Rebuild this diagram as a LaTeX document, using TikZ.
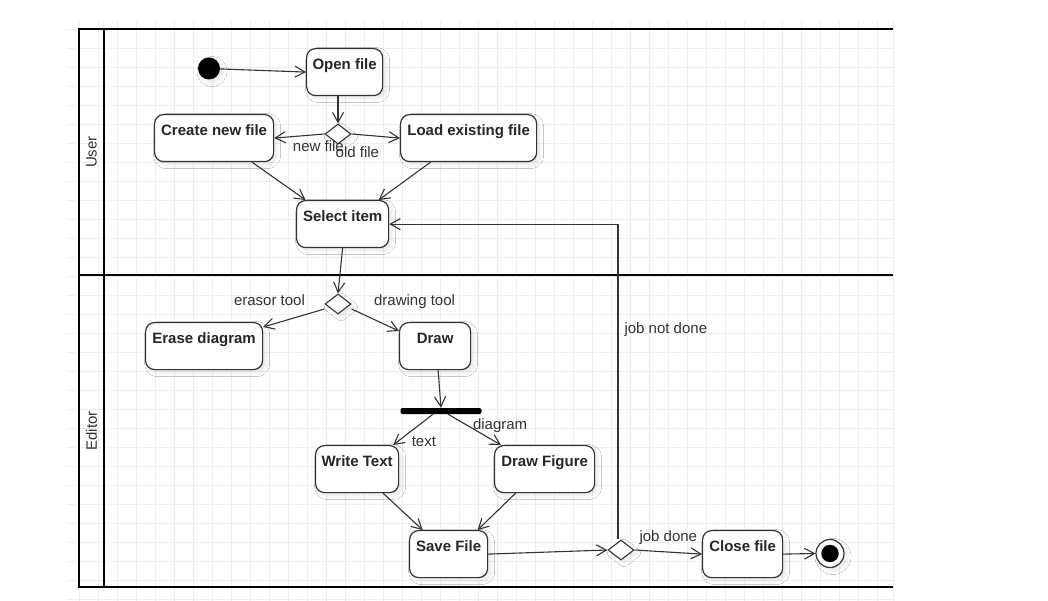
\documentclass[tikz,border=0pt]{standalone}
\usepackage{fontspec}
\setmainfont{Liberation Sans}
\usetikzlibrary{arrows.meta,shapes.geometric,shadows.blur,calc}

\definecolor{ink}{HTML}{333333}
\definecolor{gridc}{HTML}{EEEEEE}

\begin{document}
\begin{tikzpicture}[x=1pt,y=-1pt,
  every node/.style={font=\fontsize{15}{18}\selectfont},
  softshadow/.style={blur shadow={shadow xshift=3pt,shadow yshift=-3pt,shadow blur radius=4pt,shadow blur steps=8,shadow opacity=10}},
  state/.style={draw=ink, line width=1.2pt, rounded corners=9pt, fill=white,
    anchor=north west, inner xsep=3pt, inner ysep=2pt,
    text height=18.5pt, text depth=24.5pt,
    font=\bfseries\fontsize{15}{18}\selectfont, text=black!85, softshadow},
  choice/.style={diamond, draw=ink, line width=1.1pt, fill=white, inner sep=0pt,
    minimum width=26pt, minimum height=20pt, softshadow},
  flow/.style={draw=ink, line width=1.1pt, -{Straight Barb[length=10pt,width=11pt]}},
  guard/.style={text=ink, inner sep=1pt},
  lanetitle/.style={text=ink, rotate=90},
  lane/.style={line width=2pt, draw=black},
  gridline/.style={draw=gridc, line width=0.9pt}
]
% page
\fill[white] (0,0) rectangle (1048,601);
\useasboundingbox (0,0) rectangle (1048,601);

% background grid
\foreach \k in {0,...,42} \draw[gridline] ({79+19*\k},21) -- ({79+19*\k},601);
\draw[gridline] (893,21) -- (893,601);
\foreach \k in {0,...,30} \draw[gridline] (66,{29+19*\k}) -- (893,{29+19*\k});

% swimlanes
\draw[lane] (893,29) -- (79,29) -- (79,587) -- (893,587);
\draw[lane] (104,29) -- (104,587);
\draw[lane] (79,275) -- (893,275);
\node[lanetitle] (userlane) at (91.5,152) {User};
\node[lanetitle] (editorlane) at (91.5,431) {Editor};

% start and end
\node[circle, fill=black, minimum size=22pt, inner sep=0pt, softshadow] (init) at (209,68.5) {};
\node[circle, draw=ink, line width=1.2pt, fill=white, minimum size=28pt, inner sep=0pt, softshadow,
  path picture={\fill[black] (path picture bounding box.center) circle (8.7pt);}] (fin) at (830,553.5) {};

% activities
\node[state, minimum width=76pt]  (open)   at (306,48)  {Open file};
\node[state, minimum width=119pt] (cnf)    at (154,114) {Create new file};
\node[state, minimum width=136pt] (load)   at (400,114) {Load existing file};
\node[state, minimum width=92pt]  (select) at (296,200) {Select item};
\node[state, minimum width=117pt] (erase)  at (145,322) {Erase diagram};
\node[state, minimum width=71pt]  (draw)   at (399,322) {Draw};
\node[state, minimum width=83pt]  (wt)     at (315,445) {Write Text};
\node[state, minimum width=100pt] (df)     at (494,445) {Draw Figure};
\node[state, minimum width=78pt]  (save)   at (409,530) {Save File};
\node[state, minimum width=80pt]  (close)  at (702,530) {Close file};

% decisions and fork
\node[choice] (dec1) at (338,134) {};
\node[choice] (dec2) at (338,304) {};
\node[choice] (dec3) at (621,550) {};
\node[rectangle, fill=black, rounded corners=2pt, minimum width=81pt, minimum height=6pt, inner sep=0pt] (fork) at (441,411) {};

% transitions
\draw[flow] (init) -- (open.west);
\draw[flow] (dec1.north |- open.south) -- (dec1.north);
\draw[flow] (dec1.west) -- (cnf.east) node[guard, pos=0.12, below=5pt] {new file};
\draw[flow] (dec1.east) -- (load.west) node[guard, pos=0.12, below=11pt] {old file};
\draw[flow] ([xshift=38pt]cnf.south) -- ([xshift=-37pt]select.north);
\draw[flow] ([xshift=-38pt]load.south) -- ([xshift=36pt]select.north);
\draw[flow] (select.south) -- (dec2.north);
\draw[flow] ([yshift=-5pt]dec2.west) -- ([yshift=-5pt]erase.north east)
  node[guard, at start, anchor=east, xshift=-18pt, yshift=9pt] {erasor tool};
\draw[flow] ([yshift=-5pt]dec2.east) -- ([yshift=-9pt]draw.north west)
  node[guard, at start, anchor=west, xshift=21pt, yshift=7pt] {drawing tool};
\draw[flow] ([xshift=3pt]draw.south) -- (fork.north);
\draw[flow] ([xshift=-8pt]fork.south) -- ([xshift=-6pt]wt.north east)
  node[guard, at end, anchor=west, xshift=17pt, yshift=3pt] {text};
\draw[flow] ([xshift=7pt]fork.south) -- ([xshift=7pt]df.north west)
  node[guard, pos=0.5, anchor=west, xshift=-3pt, yshift=4pt] {diagram};
\draw[flow] ([xshift=26pt]wt.south) -- ([xshift=-26pt]save.north);
\draw[flow] ([xshift=-29pt]df.south) -- ([xshift=29pt]save.north);
\draw[flow] (save.east) -- (dec3.west);
\draw[flow] (dec3.east) -- (close.west) node[guard, midway, above=6pt] {job done};
\draw[flow] ([xshift=-3pt]dec3.north) |- (select.east)
  node[guard, pos=0.333, anchor=west, xshift=5pt] {job not done};
\draw[flow] (close.east) -- (fin.west);
\end{tikzpicture}
\end{document}
